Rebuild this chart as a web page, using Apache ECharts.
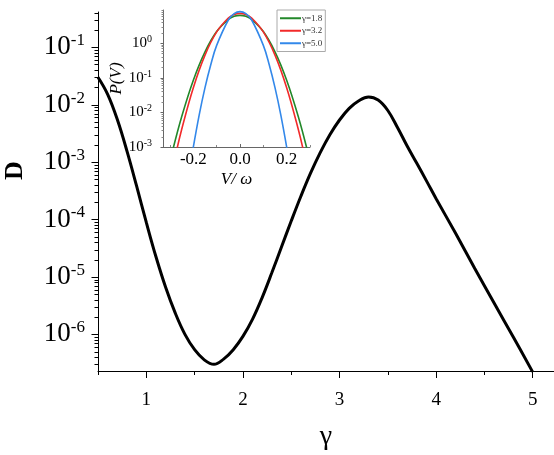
<!DOCTYPE html>
<html><head><meta charset="utf-8">
<script src="https://cdn.jsdelivr.net/npm/echarts@6/dist/echarts.min.js"></script>
<style>html,body{margin:0;padding:0;background:#fff}#c{width:554px;height:455px}</style>
</head><body><div id="c"></div>
<script>
// Main curve: D vs gamma
const gamma = [0.5,0.6,0.7,0.8,0.9,1.0,1.1,1.2,1.3,1.4,1.5,1.6,1.7,1.8,1.9,2.0,2.1,2.2,2.3,2.4,2.5,2.6,2.7,2.8,2.9,3.0,3.1,3.2,3.3,3.4,3.5,3.6,3.7,3.8,3.9,4.0,4.2,4.4,4.6,4.8,5.0];
const D = [3.0e-2,1.51e-2,5.5e-3,1.55e-3,3.8e-4,8.9e-5,2.24e-5,6.6e-6,2.34e-6,1.0e-6,5.4e-7,3.6e-7,3.0e-7,3.7e-7,5.4e-7,9.2e-7,1.84e-6,4.4e-6,1.19e-5,3.35e-5,9.4e-5,2.54e-4,6.4e-4,1.46e-3,2.99e-3,5.4e-3,8.6e-3,1.17e-2,1.36e-2,1.2e-2,7.9e-3,4.0e-3,1.9e-3,9.5e-4,4.7e-4,2.3e-4,5.8e-5,1.4e-5,3.5e-6,8.9e-7,2.2e-7];

// Inset: P(V) vs V/omega
const vG = [-0.29,-0.25,-0.2,-0.15,-0.1,-0.05,-0.025,0,0.025,0.05,0.1,0.15,0.2,0.25,0.29];
const pG = [7.3e-4,7.5e-3,0.085,0.56,2.15,4.8,5.9,6.3,5.9,4.8,2.15,0.56,0.085,7.5e-3,7.3e-4];
const vR = [-0.275,-0.25,-0.2,-0.15,-0.1,-0.05,-0.025,0,0.025,0.05,0.1,0.15,0.2,0.25,0.275];
const pR = [6.3e-4,3.2e-3,0.0515,0.449,2.10,5.3,6.7,7.2,6.7,5.3,2.10,0.449,0.0515,3.2e-3,6.3e-4];
const vB = [-0.205,-0.175,-0.15,-0.125,-0.1,-0.05,-0.025,0,0.025,0.05,0.1,0.125,0.15,0.175,0.205];
const pB = [6.4e-4,8.3e-3,0.0515,0.24,0.857,4.63,7.1,8.1,7.1,4.63,0.857,0.24,0.0515,8.3e-3,6.4e-4];
const legendNames = ['γ=1.8','γ=3.2','γ=5.0'];
const colors = ['#23882a','#f22a2a','#3388ea'];

// Tick labels
const xMajor = [1,2,3,4,5];
const xMinor = [0.5,1.5,2.5,3.5,4.5];
const yMajor = [1e-6,1e-5,1e-4,1e-3,1e-2,1e-1];
const insetXMajor = [-0.2,0,0.2];
const insetXMinor = [-0.3,-0.1,0.1,0.3];
const insetYMajor = [1e-3,1e-2,1e-1,1];

function logMinor(lo, hi){
  const out=[];
  for(let e=-8;e<=1;e++){for(let m=2;m<=9;m++){const v=Number((m*Math.pow(10,e)).toPrecision(3)); if(v>=lo&&v<=hi) out.push(v);}}
  return out;
}
const FONT = 'Liberation Serif';
const pairs = (a,b)=>a.map((x,i)=>[x,b[i]]);
const expFmt = v => '{b|10}{s|' + Math.round(Math.log10(v)) + '}';

const yMin=2.3e-7, yMax=0.41, xMin=0.5, xMax=5.22;
const iyMin=1e-3, iyMax=9, ixMin=-0.33, ixMax=0.3;

// y-axis ticks drawn through the axis scale (api.coord)
function tickSeries(xi, yi, xAt, values, len, color){
  return {type:'custom', xAxisIndex:xi, yAxisIndex:yi, clip:false, silent:true, z:5,
    data: values.map(v=>[xAt, v]),
    renderItem:(params, api)=>{
      const p = api.coord([api.value(0), api.value(1)]);
      const x = Math.round(p[0]) + 0.5, y = Math.round(p[1]) + 0.5;
      return {type:'line', shape:{x1:x-len, y1:y, x2:x, y2:y}, style:{stroke:color, lineWidth:1}};
    }};
}

const chart = echarts.init(document.getElementById('c'), null, {renderer:'canvas'});
chart.setOption({
  animation:false,
  backgroundColor:'#fff',
  grid:[
    {left:98, top:12, right:0, bottom:84, outerBoundsMode:'none', containLabel:false},
    {left:163, top:10, width:147, height:137, outerBoundsMode:'none', containLabel:false}
  ],
  legend:{
    data:legendNames, orient:'vertical', left:277, top:10, width:55,
    backgroundColor:'#fff', borderColor:'#aaa', borderWidth:1, padding:[3,3,3,3],
    itemWidth:21, itemHeight:2, itemGap:2, icon:'rect',
    textStyle:{fontFamily:FONT, fontSize:9, color:'#333', lineHeight:10.5, padding:[0,0,0,-4]}
  },
  xAxis:[
    {gridIndex:0, type:'value', position:'bottom', min:xMin, max:xMax, interval:0.5,
     name:'γ', nameLocation:'middle', nameGap:52,
     nameTextStyle:{fontFamily:FONT, fontSize:28, color:'#000'},
     axisLine:{onZero:false, lineStyle:{color:'#000', width:1}},
     axisTick:{customValues:xMajor, length:7, lineStyle:{color:'#000'}},
     axisLabel:{customValues:xMajor, margin:20, fontFamily:FONT, fontSize:19, color:'#000'},
     splitLine:{show:false}},
    {gridIndex:0, type:'value', position:'bottom', min:xMin, max:xMax, interval:0.5,
     axisLine:{show:false, onZero:false}, axisLabel:{show:false}, splitLine:{show:false},
     axisTick:{customValues:xMinor, length:4, lineStyle:{color:'#000'}}},
    {gridIndex:1, type:'value', position:'bottom', min:ixMin, max:ixMax, interval:0.1,
     name:'V/ ω', nameLocation:'middle', nameGap:24,
     nameTextStyle:{fontFamily:FONT, fontStyle:'italic', fontSize:17, color:'#000'},
     axisLine:{onZero:false, lineStyle:{color:'#666', width:1}},
     axisTick:{customValues:insetXMajor, inside:true, length:3, lineStyle:{color:'#666'}},
     axisLabel:{customValues:insetXMajor, margin:4, fontFamily:FONT, fontSize:17, color:'#000',
       formatter:v=>v.toFixed(1)},
     splitLine:{show:false}},
    {gridIndex:1, type:'value', position:'bottom', min:ixMin, max:ixMax, interval:0.1,
     axisLine:{show:false, onZero:false}, axisLabel:{show:false}, splitLine:{show:false},
     axisTick:{customValues:insetXMinor, inside:true, length:2, lineStyle:{color:'#888'}}}
  ],
  yAxis:[
    {gridIndex:0, type:'log', position:'left', min:yMin, max:yMax,
     name:'D', nameLocation:'middle', nameGap:70, nameRotate:90,
     nameTextStyle:{fontFamily:FONT, fontWeight:'bold', fontSize:26, color:'#000', padding:[0,0,0,42]},
     axisLine:{show:true, onZero:false, lineStyle:{color:'#000', width:1}},
     axisTick:{show:false},
     axisLabel:{customValues:yMajor, margin:13, formatter:expFmt,
       rich:{b:{fontFamily:FONT, fontSize:27, color:'#000', lineHeight:30},
             s:{fontFamily:FONT, fontSize:17, color:'#000', verticalAlign:'top'}}},
     splitLine:{show:false}},
    {gridIndex:1, type:'log', position:'left', min:iyMin, max:iyMax,
     name:'P(V)', nameLocation:'middle', nameGap:29, nameRotate:90,
     nameTextStyle:{fontFamily:FONT, fontStyle:'italic', fontSize:17, color:'#000'},
     axisLine:{show:true, onZero:false, lineStyle:{color:'#666', width:1}},
     axisTick:{show:false},
     axisLabel:{customValues:insetYMajor, margin:11, formatter:expFmt,
       rich:{b:{fontFamily:FONT, fontSize:15, color:'#000', lineHeight:17},
             s:{fontFamily:FONT, fontSize:10, color:'#000', verticalAlign:'top'}}},
     splitLine:{show:false}}
  ],
  series:[
    {type:'line', xAxisIndex:0, yAxisIndex:0, data:pairs(gamma,D), smooth:0.4,
     showSymbol:false, symbol:'none', lineStyle:{color:'#000', width:3}, clip:true},
    {type:'line', name:legendNames[0], xAxisIndex:2, yAxisIndex:1, data:pairs(vG,pG), smooth:0.4,
     showSymbol:false, symbol:'none', lineStyle:{color:colors[0], width:1.6}, itemStyle:{color:colors[0]}, clip:true},
    {type:'line', name:legendNames[1], xAxisIndex:2, yAxisIndex:1, data:pairs(vR,pR), smooth:0.4,
     showSymbol:false, symbol:'none', lineStyle:{color:colors[1], width:1.6}, itemStyle:{color:colors[1]}, clip:true},
    {type:'line', name:legendNames[2], xAxisIndex:2, yAxisIndex:1, data:pairs(vB,pB), smooth:0.4,
     showSymbol:false, symbol:'none', lineStyle:{color:colors[2], width:1.6}, itemStyle:{color:colors[2]}, clip:true},
    tickSeries(0, 0, xMin, yMajor, 7, '#000'),
    tickSeries(0, 0, xMin, logMinor(yMin, yMax), 4, '#000'),
    tickSeries(2, 1, ixMin, insetYMajor, 3, '#666'),
    tickSeries(2, 1, ixMin, logMinor(iyMin, iyMax), 2, '#888')
  ]
});
</script></body></html>
